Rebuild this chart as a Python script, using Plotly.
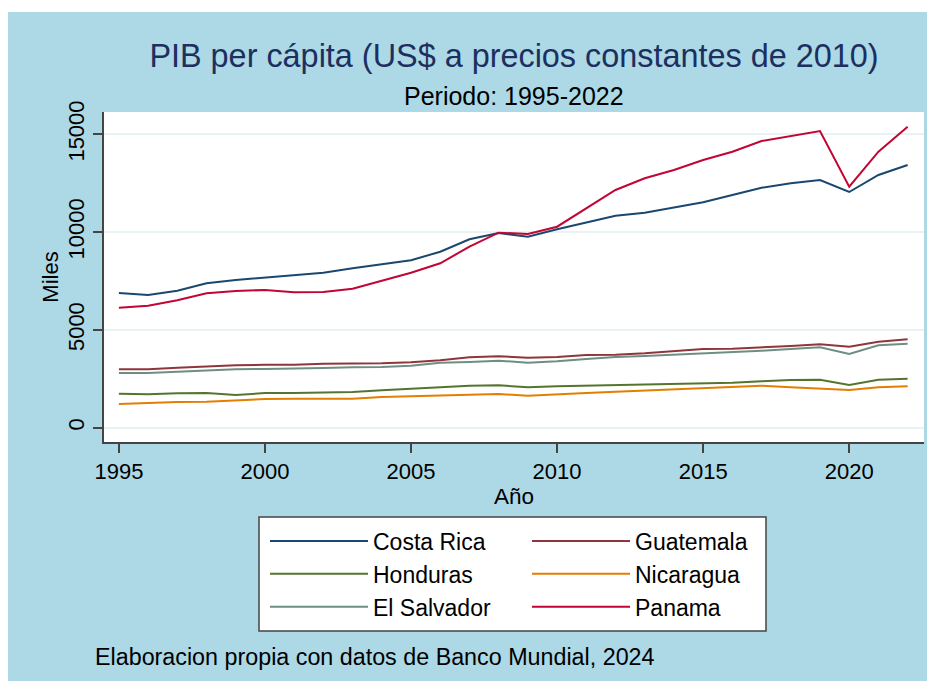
import plotly.graph_objects as go

years = list(range(1995, 2023))

costa_rica = [6886, 6784, 7005, 7382, 7551, 7670, 7771, 7925, 8149, 8369, 8558, 8998, 9632, 9955,
              9765, 10143, 10481, 10839, 10992, 11248, 11523, 11897, 12270, 12495, 12663, 12050, 12919, 13431]
guatemala = [2985, 2985, 3068, 3139, 3190, 3221, 3221, 3272, 3272, 3292, 3343, 3446, 3599, 3650,
             3579, 3614, 3717, 3733, 3804, 3921, 4024, 4041, 4090, 4177, 4264, 4141, 4397, 4519]
honduras = [1739, 1705, 1756, 1773, 1672, 1773, 1773, 1790, 1825, 1910, 1978, 2064, 2148, 2165,
            2064, 2114, 2148, 2183, 2200, 2217, 2268, 2302, 2370, 2437, 2455, 2183, 2455, 2506]
nicaragua = [1212, 1280, 1314, 1331, 1416, 1467, 1484, 1467, 1484, 1570, 1604, 1637, 1688, 1723,
             1637, 1688, 1773, 1842, 1910, 1978, 2030, 2081, 2148, 2064, 1995, 1927, 2064, 2114]
el_salvador = [2797, 2797, 2863, 2935, 2985, 3001, 3016, 3052, 3088, 3103, 3170, 3323, 3359, 3425,
               3323, 3395, 3512, 3614, 3666, 3733, 3783, 3870, 3937, 4024, 4110, 3768, 4213, 4295]
panama = [6135, 6237, 6513, 6871, 6989, 7040, 6922, 6937, 7106, 7500, 7925, 8405, 9254, 9970,
          9903, 10276, 11217, 12152, 12751, 13175, 13686, 14111, 14658, 14928, 15169, 12321, 14111, 15389]

names = ["Costa Rica", "Guatemala", "Honduras", "Nicaragua", "El Salvador", "Panama"]
series = [costa_rica, guatemala, honduras, nicaragua, el_salvador, panama]
colors = ["#1a476f", "#90353b", "#55752f", "#e37e00", "#6e8e84", "#c10534"]
legend_of = ["legend", "legend2", "legend", "legend2", "legend", "legend2"]

x_ticks = [1995, 2000, 2005, 2010, 2015, 2020]
y_ticks = [0, 5000, 10000, 15000]
y_tick_labels = ["0", "5000", "10000", "15000"]

FONT = "Liberation Sans, Arial, Helvetica, sans-serif"

fig = go.Figure()
for name, vals, col, lg in zip(names, series, colors, legend_of):
    fig.add_trace(go.Scatter(x=years, y=vals, name=name, mode="lines",
                             line=dict(color=col, width=2), legend=lg))

# page body has an 8px margin; figure coordinates = screen coordinates - 8
OFF = 8
W, H = 935, 685
L, T = 104 - OFF, 112 - OFF
R = W - (924 - OFF)
B = H - (442 - OFF)
pw, ph = W - L - R, H - T - B


def px(xs):
    return (xs - OFF - L) / pw


def py(ys):
    return (H - B - (ys - OFF)) / ph


legend_common = dict(bgcolor="rgba(0,0,0,0)", borderwidth=0, orientation="v",
                     font=dict(family=FONT, size=23, color="black"),
                     xanchor="left", yanchor="top", itemwidth=98,
                     traceorder="normal", tracegroupgap=0)

fig.update_layout(
    width=W, height=H,
    margin=dict(l=L, r=R, t=T, b=B, autoexpand=False),
    paper_bgcolor="#add8e6", plot_bgcolor="white",
    font=dict(family=FONT, color="black"),
    title=dict(text="PIB per cápita (US$ a precios constantes de 2010)",
               font=dict(family=FONT, size=32.4, color="#1c2f5f"),
               x=0.5, xref="paper", xanchor="center",
               y=1 - (56 - OFF) / H, yref="container", yanchor="middle"),
    showlegend=True,
    legend=dict(x=px(265), y=py(519.5), **legend_common),
    legend2=dict(x=px(527), y=py(519.5), **legend_common),
    xaxis=dict(range=[1994.49, 2022.56], tickvals=x_ticks, ticks="outside",
               ticklen=9, tickwidth=1.5, tickcolor="#444", showgrid=False,
               showline=True, linecolor="#444", linewidth=1.5, zeroline=False,
               tickfont=dict(family=FONT, size=22, color="black"),
               title=dict(text="Año", font=dict(family=FONT, size=22.5, color="black"),
                          standoff=2)),
    yaxis=dict(range=[-731, 16140], tickvals=y_ticks, ticktext=y_tick_labels,
               ticks="outside", ticklen=9, tickwidth=1.5, tickcolor="#444", tickangle=-90,
               showgrid=True, gridcolor="#e8f1f3", gridwidth=1.5,
               showline=True, linecolor="#444", linewidth=1.5, zeroline=False,
               tickfont=dict(family=FONT, size=22, color="black"),
               title=dict(text="Miles", font=dict(family=FONT, size=22, color="black"),
                          standoff=0)),
    shapes=[
        dict(type="rect", xref="paper", yref="paper", layer="below",
             x0=px(0), x1=px(960), y0=py(12), y1=py(0),
             fillcolor="white", line=dict(width=0)),
        dict(type="rect", xref="paper", yref="paper", layer="below",
             x0=px(0), x1=px(960), y0=py(710), y1=py(681),
             fillcolor="white", line=dict(width=0)),
        dict(type="rect", xref="paper", yref="paper", layer="below",
             x0=px(259), x1=px(766), y0=py(631), y1=py(517),
             fillcolor="white", line=dict(width=0)),
        dict(type="rect", xref="paper", yref="paper", layer="above",
             x0=px(259), x1=px(766), y0=py(631), y1=py(517),
             fillcolor="rgba(0,0,0,0)", line=dict(color="#444", width=1.5)),
    ],
    annotations=[
        dict(text="Periodo: 1995-2022", xref="paper", yref="paper",
             x=0.5, y=py(96), xanchor="center", yanchor="middle", showarrow=False,
             font=dict(family=FONT, size=25, color="black")),
        dict(text="Elaboracion propia con datos de Banco Mundial, 2024",
             xref="paper", yref="paper", x=px(93), y=py(657), xanchor="left",
             yanchor="middle", showarrow=False,
             font=dict(family=FONT, size=23.3, color="black")),
    ],
)

fig.write_html("out.html")
